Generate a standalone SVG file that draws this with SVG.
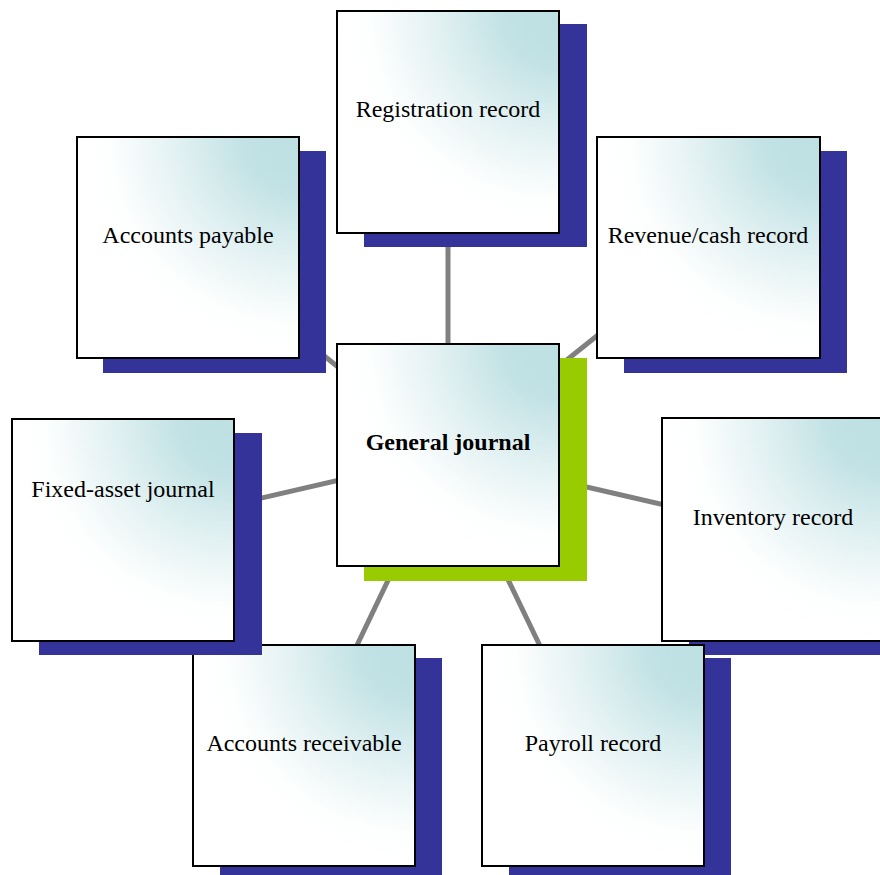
<svg xmlns="http://www.w3.org/2000/svg" width="880" height="875" viewBox="0 0 880 875">
<defs>
<radialGradient id="fill" cx="1" cy="0" r="1" fx="1" fy="0">
<stop offset="0" stop-color="#bde0e3"/>
<stop offset="0.25" stop-color="#c2e2e5"/>
<stop offset="0.55" stop-color="#e2f1f2"/>
<stop offset="0.85" stop-color="#fdfefe"/>
<stop offset="1" stop-color="#ffffff"/>
</radialGradient>
</defs>
<style>
.sh{fill:#333399}
.shg{fill:#99cc00}
.box{fill:url(#fill);stroke:#000;stroke-width:2}
.lbl{font-family:"Liberation Serif","Times New Roman",serif;font-size:24px;fill:#000;text-anchor:middle}
.b{font-weight:bold}
.ln{stroke:#808080;stroke-width:5;fill:none}
</style>
<rect width="880" height="875" fill="#fff"/>
<g id="connectors">
<line class="ln" x1="448" y1="455" x2="448" y2="122"/>
<line class="ln" x1="448" y1="455" x2="188" y2="247"/>
<line class="ln" x1="448" y1="455" x2="708" y2="247"/>
<line class="ln" x1="448" y1="455" x2="123" y2="530"/>
<line class="ln" x1="448" y1="455" x2="773" y2="530"/>
<line class="ln" x1="448" y1="455" x2="304" y2="756"/>
<line class="ln" x1="448" y1="455" x2="593" y2="756"/>
</g>
<g id="registration">
<rect class="sh" x="364" y="24" width="223" height="223"/>
<rect class="box" x="337" y="11" width="222" height="222"/>
<text class="lbl" x="448" y="117">Registration record</text>
</g>
<g id="payable">
<rect class="sh" x="103" y="151" width="223" height="222"/>
<rect class="box" x="77" y="137" width="222" height="221"/>
<text class="lbl" x="188" y="243">Accounts payable</text>
</g>
<g id="revenue">
<rect class="sh" x="624" y="151" width="223" height="222"/>
<rect class="box" x="597" y="137" width="223" height="221"/>
<text class="lbl" x="708" y="243">Revenue/cash record</text>
</g>
<g id="general">
<rect class="shg" x="364" y="358" width="223" height="223"/>
<rect class="box" x="337" y="344" width="222" height="222"/>
<text class="lbl b" x="448" y="450">General journal</text>
</g>
<g id="inventory">
<rect class="sh" x="689" y="432" width="223" height="223"/>
<rect class="box" x="662" y="418" width="222" height="223"/>
<text class="lbl" x="773" y="525">Inventory record</text>
</g>
<g id="receivable">
<rect class="sh" x="220" y="658" width="222" height="222"/>
<rect class="box" x="193" y="645" width="222" height="221"/>
<text class="lbl" x="304" y="751">Accounts receivable</text>
</g>
<g id="fixedasset">
<rect class="sh" x="39" y="433" width="223" height="222"/>
<rect class="box" x="12" y="419" width="222" height="222"/>
<text class="lbl" x="123" y="497">Fixed-asset journal</text>
</g>
<g id="payroll">
<rect class="sh" x="509" y="658" width="222" height="222"/>
<rect class="box" x="482" y="645" width="222" height="221"/>
<text class="lbl" x="593" y="751">Payroll record</text>
</g>
</svg>
